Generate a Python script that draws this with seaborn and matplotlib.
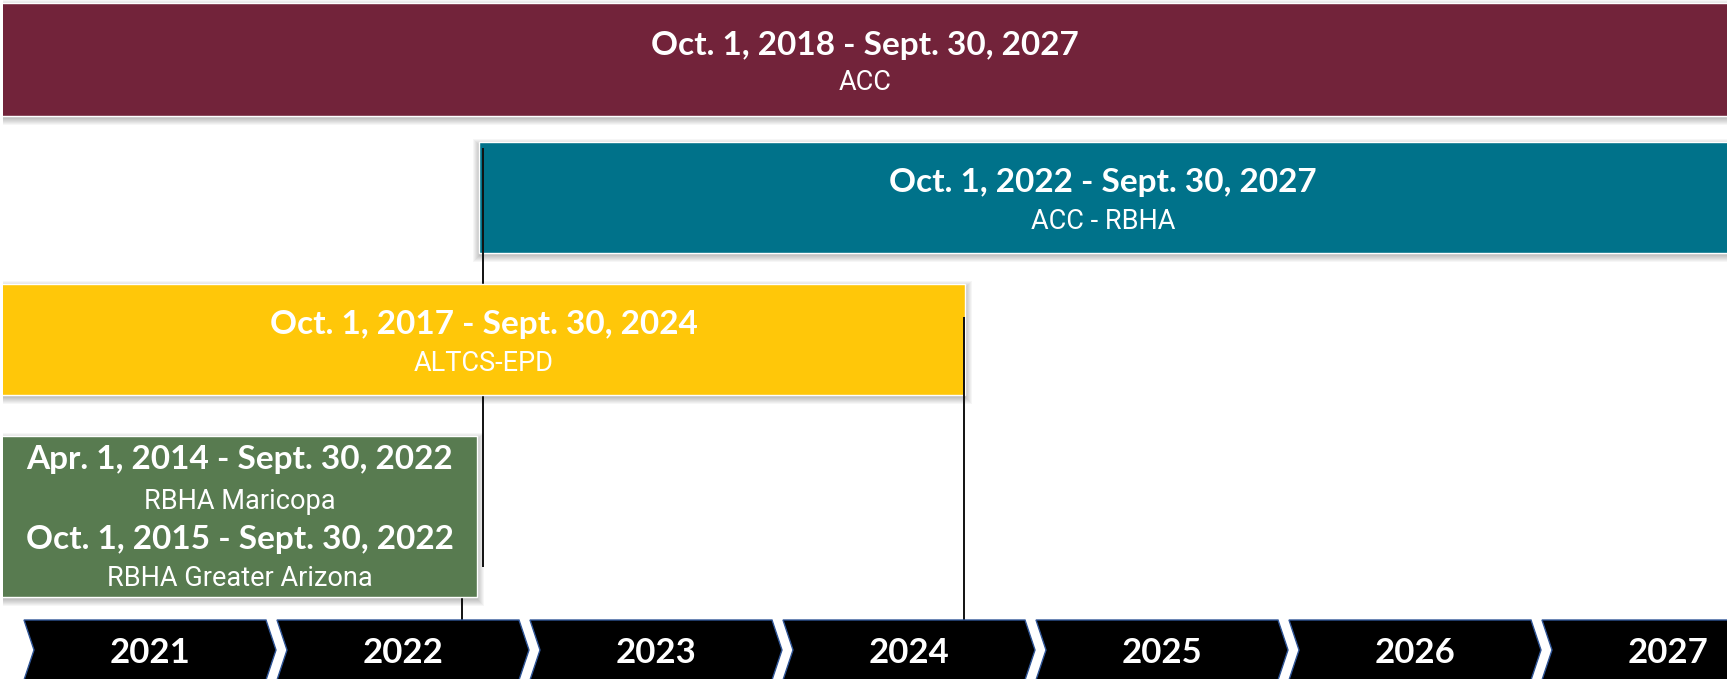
import matplotlib
matplotlib.use("Agg")
import matplotlib.pyplot as plt
from matplotlib.patches import Polygon, Rectangle
import seaborn as sns

# contract periods and programme names, one row per bar (top to bottom)
periods = [
    ["Oct. 1, 2018 - Sept. 30, 2027"],
    ["Oct. 1, 2022 - Sept. 30, 2027"],
    ["Oct. 1, 2017 - Sept. 30, 2024"],
    ["Apr. 1, 2014 - Sept. 30, 2022", "Oct. 1, 2015 - Sept. 30, 2022"],
]
programs = [
    ["ACC"],
    ["ACC - RBHA"],
    ["ALTCS-EPD"],
    ["RBHA Maricopa", "RBHA Greater Arizona"],
]
# bar extents on the timeline (decimal years, as drawn in the picture)
bar_start = [2018.75, 2022.80, 2017.75, 2014.25]
bar_end = [2027.75, 2027.75, 2024.72, 2022.79]
bar_colors = ["#72233A", "#00728A", "#FFC709", "#587B50"]

years = [2021, 2022, 2023, 2024, 2025, 2026, 2027]
# vertical connector lines down to the year arrows
connector_x = [2022.815, 2022.73, 2024.715]

# ---- layout (pixels, measured from the top edge) ----
W, H = 1727, 679
PX = 253.0                      # pixels per year
X0 = 2021 - 24 / PX             # timeline value at the left image edge
row_top = [3, 142, 284, 436]
row_bottom = [116, 253, 395, 597]
row_z = [2, 2, 4, 4]
line_base = [[55, 90], [192, 229], [334, 371], [469, 509, 549, 586]]
connector_y = [(148, 567), (560, 622), (317, 622)]
connector_z = [3, 3, 5]
chev_top, chev_bot = 620, 680
chev_w, chev_tip = 242 / PX, 10 / PX

BOLD = ["Lato", "DejaVu Sans"]
SUB = ["Roboto", "Liberation Sans", "DejaVu Sans"]

sns.set_theme(style="white")
plt.rcParams["font.family"] = BOLD

fig = plt.figure(figsize=(W / 100, H / 100), dpi=100)
ax = fig.add_axes([3 / W, 0, (W - 3) / W, 1])
xlo, xhi = X0 + 3 / PX, X0 + W / PX
ax.set_xlim(xlo, xhi)
ax.set_ylim(H, 0)
ax.axis("off")


def shadow(x0, x1, y0, y1, z):
    for k in range(1, 8):
        ax.add_patch(Rectangle((x0 - (k - 1) / PX, y0 - k + 4), (x1 - x0) + (2 * k - 1) / PX,
                               (y1 - y0) + 2 * k - 2, color="black", alpha=0.035, lw=0, zorder=z - 0.5))


for i in range(len(periods)):
    top, bot = row_top[i], row_bottom[i]
    shadow(bar_start[i], bar_end[i], top, bot, row_z[i])
    ax.barh(y=(top + bot) / 2, width=bar_end[i] - bar_start[i], left=bar_start[i],
            height=bot - top, color=bar_colors[i], zorder=row_z[i])
    xc = (max(bar_start[i], xlo) + min(bar_end[i], xhi)) / 2
    lines = []
    for p, n in zip(periods[i], programs[i]):
        lines += [(p, True), (n, False)]
    for (txt, bold), yb in zip(lines, line_base[i]):
        if bold:
            ax.text(xc, yb, txt, ha="center", va="baseline", color="white",
                    fontsize=24, fontweight="bold", family=BOLD, zorder=10)
        else:
            ax.text(xc, yb, txt, ha="center", va="baseline", color="white",
                    fontsize=19.5, family=SUB, zorder=10)

for x, (y0, y1), z in zip(connector_x, connector_y, connector_z):
    ax.vlines(x, y0, y1, color="#111111", lw=1.4, zorder=z)

# year arrows
mid = (chev_top + chev_bot) / 2
for y in years:
    l, r = y, y + chev_w
    pts = [(l, chev_top), (r, chev_top), (r + chev_tip, mid), (r, chev_bot),
           (l, chev_bot), (l + chev_tip, mid)]
    ax.add_patch(Polygon(pts, closed=True, facecolor="black", edgecolor="#2F5597",
                         lw=1.0, zorder=6))
    ax.text(y + 126 / PX, 663, str(y), ha="center", va="baseline", color="white",
            fontsize=25, fontweight="bold", family=BOLD, zorder=10)

fig.savefig("out.png", dpi=100, facecolor="white")
